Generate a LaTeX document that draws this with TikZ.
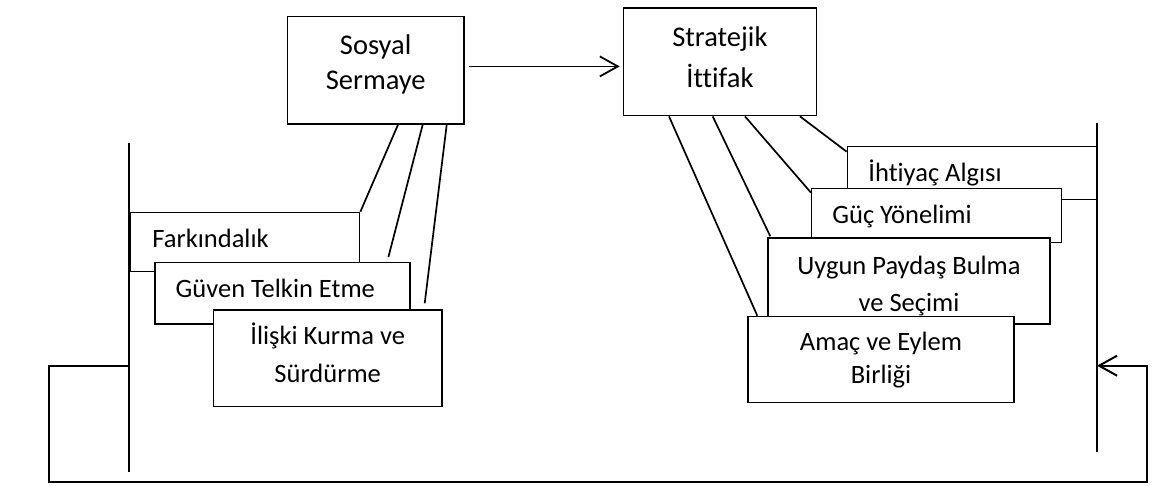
\documentclass[tikz,border=0pt]{standalone}
\usepackage{fontspec}
\setmainfont{Carlito}[Ligatures=NoCommon]
\usetikzlibrary{arrows.meta,calc}
\newcommand\ctext[6]{\parbox[t][#2pt][t]{#1pt}{\centering\baselineskip=#4pt\rule{0pt}{#3pt}#5\\#6}}
\newcommand\ltext[5]{\parbox[t][#2pt][t]{#1pt}{\raggedright\hspace*{#3pt}\rule{0pt}{#4pt}#5}}
\begin{document}
\begin{tikzpicture}[x=1pt,y=-1pt,
  box/.style={draw, fill=white, line width=1.4pt, inner sep=0pt, anchor=north west, font=\fontsize{26.5}{37}\selectfont},
  bigbox/.style={box, font=\fontsize{28.5}{40}\selectfont},
  link/.style={line width=1.7pt},
  bar/.style={line width=2.3pt},
  loop/.style={line width=2pt},
  tip/.style={-{Straight Barb[length=18pt,width=20pt]}},
  arr/.style={line width=1.8pt, tip}]
\useasboundingbox (0,0) rectangle (1152,485);

% boxes
\node[bigbox] (sos) at (286.7,15.7) {\ctext{176.6}{107.6}{37.6}{35}{Sosyal}{Sermaye}};
\node[bigbox] (str) at (622.7,7.3) {\ctext{193}{107.7}{38.7}{40.7}{Stratejik}{İttifak}};

\node[box] (far) at (130,211.7) {\ltext{229}{59.3}{21.7}{35}{Farkındalık}};
\node[box] (guv) at (154.3,261.7) {\ltext{255}{61.6}{20.7}{35}{Güven Telkin Etme}};
\node[box] (ili) at (212.7,309.3) {\ctext{228.6}{96.4}{34.7}{37.7}{İlişki Kurma ve}{Sürdürme}};

\node[box] (iht) at (846.7,145.7) {\ltext{250.3}{53.3}{21}{35.3}{İhtiyaç Algısı}};
\node[box] (guc) at (811,187.7) {\ltext{250}{54}{20.7}{35}{Güç Yönelimi}};
\node[box] (uyg) at (767.3,237.3) {\ctext{282}{86}{36}{37.4}{Uygun Paydaş Bulma}{ve Seçimi}};
\node[box] (ama) at (747.3,315.7) {\ctext{266}{86}{34.3}{33}{Amaç ve Eylem}{Birliği}};

% bars and feedback loop
\coordinate (lt) at (129,143);
\coordinate (lb) at (129,471.7);
\coordinate (rt) at (1097,123);
\coordinate (rb) at (1097,451.7);
\coordinate (lj) at (129,365.7);
\coordinate (rj) at (1097,365.7);
\coordinate (c1) at (49.3,481.5);
\coordinate (c2) at (1147,481.5);
\draw[bar] (lt) -- (lb);
\draw[bar] (rt) -- (rb);
\draw[loop, tip] (lj) -- (lj -| c1) -- (c1) -- (c2) -- (c2 |- rj) -- (rj);

% main arrow
\coordinate (a0) at ([xshift=4pt,yshift=3.8pt]sos.east);
\draw[arr, shorten >=3pt] (a0) -- (a0 -| str.west);

% links
\draw[link] ([xshift=111.3pt]sos.south west) -- (far.north east);
\draw[link] ([xshift=136pt]sos.south west) -- ([xshift=-22.3pt,yshift=4.7pt]guv.north east);
\draw[link] ([xshift=160pt]sos.south west) -- ([xshift=-18pt,yshift=6pt]ili.north east);

\draw[link] ([xshift=177.3pt]str.south west) -- ([yshift=-6pt]iht.north west);
\draw[link] ([xshift=122.3pt]str.south west) -- ([yshift=-5pt]guc.north west);
\draw[link] ([xshift=90pt]str.south west) -- ([xshift=3pt,yshift=1pt]uyg.north west);
\draw[link] ([xshift=46.3pt]str.south west) -- ([xshift=10pt]ama.north west);
\end{tikzpicture}
\end{document}
